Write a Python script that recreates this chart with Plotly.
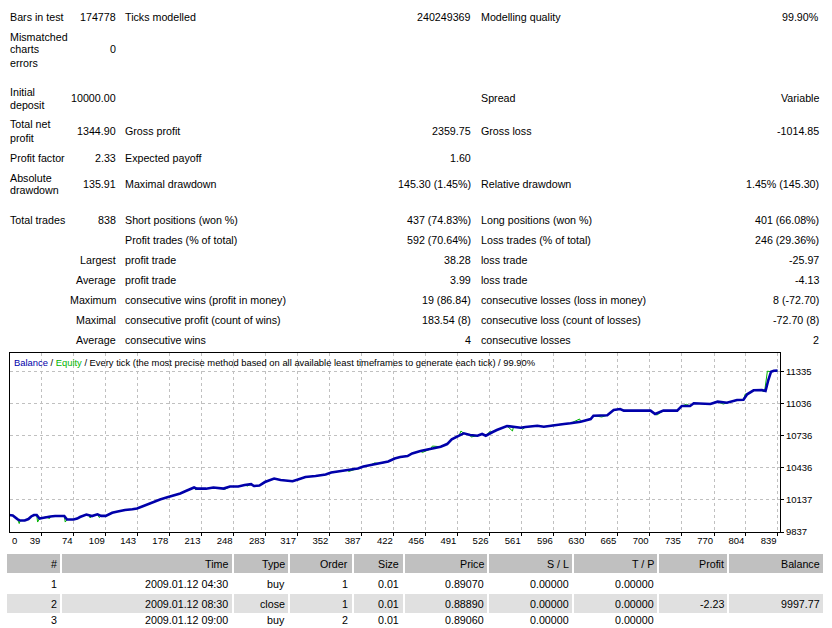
import plotly.graph_objects as go

W, H = 832, 628
FONT = "Liberation Sans, Arial, sans-serif"

# ---------------- data ----------------
summary_col_a = ["Bars in test", "Mismatched\ncharts\nerrors", "Initial\ndeposit", "Total net\nprofit",
                 "Profit factor", "Absolute\ndrawdown", "Total trades", "", "", "", "", "", ""]
summary_col_b = ["174778", "0", "10000.00", "1344.90", "2.33", "135.91", "838", "",
                 "Largest", "Average", "Maximum", "Maximal", "Average"]
summary_col_c = ["Ticks modelled", "", "", "Gross profit", "Expected payoff", "Maximal drawdown",
                 "Short positions (won %)", "Profit trades (% of total)", "profit trade", "profit trade",
                 "consecutive wins (profit in money)", "consecutive profit (count of wins)", "consecutive wins"]
summary_col_d = ["240249369", "", "", "2359.75", "1.60", "145.30 (1.45%)", "437 (74.83%)", "592 (70.64%)",
                 "38.28", "3.99", "19 (86.84)", "183.54 (8)", "4"]
summary_col_e = ["Modelling quality", "", "Spread", "Gross loss", "", "Relative drawdown",
                 "Long positions (won %)", "Loss trades (% of total)", "loss trade", "loss trade",
                 "consecutive losses (loss in money)", "consecutive loss (count of losses)", "consecutive losses"]
summary_col_f = ["99.90%", "", "Variable", "-1014.85", "", "1.45% (145.30)", "401 (66.08%)", "246 (29.36%)",
                 "-25.97", "-4.13", "8 (-72.70)", "-72.70 (8)", "2"]

balance_t = [0, 8, 13, 16, 21, 25, 28, 31, 34, 37, 40, 44, 49, 54, 62, 64, 67, 74, 78, 81, 88, 91, 94, 100,
             104, 109, 116, 122, 130, 138, 143, 150, 155, 161, 168, 175, 181, 190, 196, 202, 205, 208, 218,
             226, 231, 237, 244, 253, 260, 267, 270, 276, 282, 288, 292, 299, 307, 312, 318, 326, 337, 348,
             354, 361, 372, 383, 389, 397, 407, 416, 423, 429, 437, 442, 451, 462, 473, 480, 485, 493, 498,
             505, 513, 518, 522, 529, 534, 545, 552, 560, 565, 578, 585, 596, 607, 614, 625, 636, 639, 654,
             661, 668, 672, 701, 706, 715, 730, 735, 744, 748, 766, 774, 784, 795, 802, 806, 813, 822, 826,
             829, 832, 835, 839]
balance_v = [10000, 9991, 9958, 9944, 9944, 9958, 9982, 9996, 9996, 9962, 9968, 9977, 9982, 9986, 9991, 9986,
             9954, 9954, 9963, 9977, 10000, 9991, 9986, 10002, 9988, 9988, 10017, 10029, 10043, 10049, 10057,
             10080, 10099, 10117, 10141, 10159, 10173, 10197, 10220, 10243, 10253, 10242, 10242, 10253, 10248,
             10243, 10262, 10262, 10276, 10284, 10267, 10271, 10304, 10328, 10337, 10323, 10318, 10311, 10328,
             10351, 10360, 10374, 10393, 10400, 10416, 10430, 10449, 10463, 10477, 10496, 10524, 10538, 10547,
             10571, 10594, 10613, 10634, 10659, 10703, 10737, 10759, 10744, 10737, 10753, 10737, 10769, 10790,
             10828, 10818, 10812, 10818, 10830, 10821, 10837, 10846, 10853, 10868, 10893, 10924, 10928, 10977,
             10986, 10971, 10971, 10940, 10971, 10971, 11015, 11015, 11040, 11033, 11055, 11045, 11071, 11073,
             11124, 11161, 11164, 11155, 11257, 11335, 11344, 11345]

equity_t = [0, 8, 13, 15, 16, 21, 25, 28, 31, 34, 35, 37, 40, 44, 48, 49, 54, 62, 64, 65, 67, 74, 78, 81, 88,
            91, 92, 94, 100, 102, 104, 109, 116, 122, 130, 138, 143, 150, 155, 161, 168, 175, 181, 190, 196,
            202, 205, 207, 208, 218, 226, 231, 237, 238, 244, 253, 260, 263, 267, 270, 276, 282, 288, 292, 299,
            307, 312, 318, 326, 337, 348, 354, 361, 372, 373, 383, 389, 397, 401, 407, 416, 423, 429, 437, 442,
            451, 453, 462, 464, 473, 480, 485, 493, 495, 498, 505, 506, 513, 518, 522, 527, 529, 534, 545, 551,
            552, 560, 562, 565, 578, 585, 596, 607, 614, 624, 625, 636, 639, 648, 654, 661, 668, 672, 701, 706,
            708, 715, 730, 735, 740, 744, 748, 766, 774, 780, 784, 795, 802, 804, 806, 813, 822, 823, 825, 828,
            832, 835, 839]
equity_v = [10000, 9991, 9958, 9916, 9944, 9944, 9958, 9982, 9996, 9996, 9930, 9962, 9968, 9977, 9963, 9982,
            9986, 9991, 9986, 9930, 9954, 9954, 9963, 9977, 10000, 9991, 9968, 9986, 10002, 9972, 9988, 9988,
            10017, 10029, 10043, 10049, 10057, 10080, 10099, 10117, 10141, 10159, 10173, 10197, 10220, 10243,
            10253, 10229, 10242, 10242, 10253, 10248, 10243, 10234, 10262, 10262, 10276, 10267, 10284, 10267,
            10271, 10304, 10328, 10337, 10323, 10318, 10311, 10328, 10351, 10360, 10374, 10393, 10400, 10416,
            10402, 10430, 10449, 10463, 10482, 10477, 10496, 10524, 10538, 10547, 10571, 10594, 10580, 10613,
            10640, 10634, 10659, 10703, 10737, 10781, 10759, 10744, 10725, 10737, 10753, 10737, 10781, 10769,
            10790, 10828, 10781, 10818, 10812, 10797, 10818, 10830, 10821, 10837, 10846, 10853, 10893, 10868,
            10893, 10924, 10912, 10928, 10977, 10986, 10971, 10971, 10940, 10930, 10971, 10971, 11015, 11030,
            11015, 11040, 11033, 11055, 11033, 11045, 11071, 11073, 11127, 11124, 11161, 11164, 11150, 11152,
            11340, 11335, 11344, 11345]

x_tick_labels = [0, 39, 74, 109, 143, 178, 213, 248, 283, 317, 352, 387, 422, 456, 491, 526, 561, 596, 630,
                 665, 700, 735, 770, 804, 839]
y_tick_labels = [9837, 10137, 10436, 10736, 11036, 11335]

table_header = ["#", "Time", "Type", "Order", "Size", "Price", "S / L", "T / P", "Profit", "Balance"]
col_num = ["1", "2", "3"]
col_time = ["2009.01.12 04:30", "2009.01.12 08:30", "2009.01.12 09:00"]
col_type = ["buy", "close", "buy"]
col_order = ["1", "1", "2"]
col_size = ["0.01", "0.01", "0.01"]
col_price = ["0.89070", "0.88890", "0.89060"]
col_sl = ["0.00000", "0.00000", "0.00000"]
col_tp = ["0.00000", "0.00000", "0.00000"]
col_profit = ["", "-2.23", ""]
col_balance = ["", "9997.77", ""]

legend_text = ("<span style='color:#0000AA'>Balance</span> / <span style='color:#00B400'>Equity</span>"
               " / Every tick (the most precise method based on all available least timeframes to generate each tick) / 99.90%")

# ---------------- layout constants ----------------
def px(x):
    return x / W

def py(y):
    return 1 - y / H

PLOT_L, PLOT_R, PLOT_T, PLOT_B = 9.5, 780, 353, 532
X_RANGE = [4.44, 841.7]
Y_RANGE = [9837, 11509.8]

row_y = [16, 49, 97.5, 130.5, 157, 183.5, 219, 239, 259, 279, 299, 319, 339]
Y_SHIFT = 0.5
LINE_GAP = 13
COL_A_L, COL_B_R, COL_C_L, COL_D_R, COL_E_L, COL_F_R = 8, 118, 123, 473, 479, 821
TXT = 10.7

fig = go.Figure()

fig.add_trace(go.Scatter(x=equity_t, y=equity_v, mode="lines", line=dict(color="#00B400", width=1),
                         hoverinfo="skip", showlegend=False))
fig.add_trace(go.Scatter(x=balance_t, y=balance_v, mode="lines", line=dict(color="#0000AA", width=2.6),
                         hoverinfo="skip", showlegend=False))

# ---------------- trade table (cells as a heatmap on its own axes, text as annotations) ----------------
TABLE_L, TABLE_R, TABLE_T, ROW_H = 6, 824, 554, 20
TEXT_BOX_H = 14          # approx. height of one annotation text box in px
col_edges = [6, 61.3, 232.5, 289.3, 352.5, 403.5, 488.2, 573.2, 658.3, 728.2, 824]
table_cols = [col_num, col_time, col_type, col_order, col_size, col_price, col_sl, col_tp, col_profit, col_balance]
n_rows = len(col_num)
row_shade = [2] + [1 if r % 2 == 1 else 0 for r in range(n_rows)]   # 2 header, 1 grey stripe, 0 white
visible_rows = (H - TABLE_T) / ROW_H
y2_bottom = visible_rows - 0.5

fig.add_trace(go.Heatmap(
    x=col_edges, y=[r - 0.5 for r in range(n_rows + 2)],
    z=[[s] * len(table_header) for s in row_shade],
    zmin=0, zmax=2, colorscale=[[0, "#FFFFFF"], [0.5, "#E0E0E0"], [1, "#C0C0C0"]],
    showscale=False, xgap=2, ygap=1, hoverinfo="skip", xaxis="x2", yaxis="y2",
))

annotations = []

def add_text(text, x, y, anchor, size=TXT):
    annotations.append(dict(text=text, x=px(x), y=py(y + Y_SHIFT), xref="paper", yref="paper", xanchor=anchor,
                            yanchor="middle", showarrow=False, font=dict(family=FONT, size=size, color="black")))

for i, yc in enumerate(row_y):
    lines = summary_col_a[i].split("\n")
    n = len(lines)
    for j, ln in enumerate(lines):
        if ln:
            add_text(ln, COL_A_L, yc + (j - (n - 1) / 2) * LINE_GAP, "left")
    for lst, xx, anc in [(summary_col_b, COL_B_R, "right"), (summary_col_c, COL_C_L, "left"),
                         (summary_col_d, COL_D_R, "right"), (summary_col_e, COL_E_L, "left"),
                         (summary_col_f, COL_F_R, "right")]:
        if lst[i]:
            add_text(lst[i], xx, yc, anc)

CELL_PAD = 2.5
half_box_rows = TEXT_BOX_H / 2 / ROW_H
for c, head in enumerate(table_header):
    cells = [head] + table_cols[c]
    for r, txt in enumerate(cells):
        if not txt:
            continue
        if r + half_box_rows > y2_bottom:
            # last (partly visible) row: keep its text inside the page
            yy, yanc = y2_bottom, "bottom"
        else:
            yy, yanc = r, "middle"
        annotations.append(dict(text=txt, x=col_edges[c + 1] - CELL_PAD, y=yy, xref="x2", yref="y2",
                                xanchor="right", yanchor=yanc, showarrow=False,
                                font=dict(family=FONT, size=TXT, color="black")))

# legend line inside chart
annotations.append(dict(text=legend_text, x=px(12), y=py(362), xref="paper", yref="paper", xanchor="left",
                        yanchor="middle", showarrow=False, font=dict(family=FONT, size=9.4, color="black")))
# first x label at the left edge
annotations.append(dict(text=str(x_tick_labels[0]), x=X_RANGE[0], y=py(540), xref="x", yref="paper",
                        xanchor="left", yanchor="middle", showarrow=False,
                        font=dict(family=FONT, size=9.5, color="black")))

axis_common = dict(showline=True, linecolor="black", linewidth=1, mirror=True, zeroline=False,
                   gridcolor="#C0C0C0", griddash="3px,3px", gridwidth=1, ticks="outside", ticklen=3,
                   tickcolor="black", tickfont=dict(family=FONT, size=9.5, color="black"), fixedrange=True,
                   automargin=False)

fig.update_layout(
    width=W, height=H, autosize=False,
    margin=dict(l=0, r=0, t=0, b=0, pad=0, autoexpand=False),
    paper_bgcolor="white", plot_bgcolor="white",
    showlegend=False,
    xaxis=dict(domain=[px(PLOT_L), px(PLOT_R)], range=X_RANGE, tickmode="array",
               tickvals=x_tick_labels[1:], ticktext=[str(v) for v in x_tick_labels[1:]],
               ticklabelposition="outside left", **axis_common),
    yaxis=dict(domain=[py(PLOT_B), py(PLOT_T)], range=Y_RANGE, side="right", tickmode="array",
               tickvals=y_tick_labels, ticktext=[str(v) for v in y_tick_labels], **axis_common),
    xaxis2=dict(domain=[px(TABLE_L), px(TABLE_R)], range=[TABLE_L, TABLE_R], visible=False,
                anchor="y2", fixedrange=True, automargin=False),
    yaxis2=dict(domain=[0, py(TABLE_T)], range=[y2_bottom, -0.5], visible=False,
                anchor="x2", fixedrange=True, automargin=False),
    annotations=annotations,
)

fig.write_html("out.html")
